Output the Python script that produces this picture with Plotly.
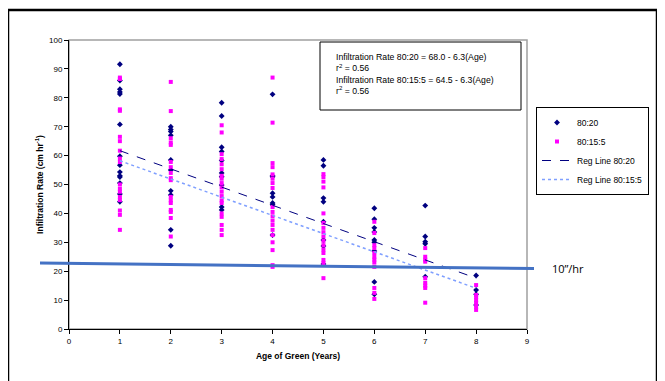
import plotly.graph_objects as go

# ---- data ----
ages_8020 = ([1]*14 + [2]*10 + [3]*10 + [4]*8 + [5]*8 + [6]*9 + [7]*5 + [8]*4)
rates_8020 = [91.6, 86, 83, 82, 81.3, 70.8, 59.8, 56.7, 54.3, 53, 52.6, 50.5, 46.7, 44,
              70, 69, 68.3, 67, 58.5, 55, 47.8, 46.4, 34.3, 28.8,
              78.3, 73.7, 62.9, 61.4, 58.3, 54, 52.7, 49.8, 42.2, 41.2,
              81.2, 53, 52.7, 47, 45.7, 43.6, 43, 32.5,
              58.5, 56.5, 45.3, 44, 37.1, 30.8, 28.7, 22.5,
              41.8, 38, 35, 33.6, 30.8, 30, 27, 16.3, 12,
              42.7, 32, 30.2, 29.5, 18.1,
              18.5, 13.5, 12, 8.3]

ages_80155 = ([1]*17 + [2]*17 + [3]*19 + [4]*19 + [5]*16 + [6]*12 + [7]*9 + [8]*7)
rates_80155 = [87, 86.5, 76, 75.5, 66.5, 65, 61.7, 59, 57.8, 50, 48.5, 47.5, 45.7, 44.6, 41, 39.5, 34.3,
               85.5, 75.4, 66, 64.5, 63.7, 57.8, 56, 54, 52.2, 51.5, 45.7, 44.5, 43.6, 41.2, 40.5, 38.4, 32,
               70.5, 68, 60.5, 58.8, 57, 55.3, 53, 52, 50.5, 49, 47.5, 46, 44.5, 43.6, 40, 38.8, 36, 34.3, 32.5,
               87, 71.4, 57.4, 56, 53.5, 52, 50.5, 48.8, 42.2, 40.5, 39, 37.5, 36, 34.3, 32.5, 30, 27.3, 22.1, 21.5,
               53.6, 52.6, 51, 49, 40, 36.7, 35, 33.5, 32, 30.5, 29, 27.5, 26.3, 23.9, 22.8, 17.6,
               37.1, 33.2, 29, 28, 26.3, 25, 24, 23, 21.5, 14.2, 12.5, 10.4,
               28, 25, 24, 23.3, 17.6, 16, 15, 14.2, 9.1,
               15.2, 11.8, 11, 10, 9, 7.7, 6.6]

reg_ages = [1, 8]
reg_8020_intercept, reg_8020_slope = 68.0, -6.3
reg_80155_intercept, reg_80155_slope = 64.5, -6.3

x_ticks = [0, 1, 2, 3, 4, 5, 6, 7, 8, 9]
y_ticks = [0, 10, 20, 30, 40, 50, 60, 70, 80, 90, 100]

FONT = "Liberation Sans, Arial, sans-serif"

fig = go.Figure()
fig.add_trace(go.Scatter(x=ages_8020, y=rates_8020, mode="markers", name="80:20",
                         legendgroup="a",
                         marker=dict(symbol="diamond", size=4.5, color="#000080")))
fig.add_trace(go.Scatter(x=ages_80155, y=rates_80155, mode="markers", name="80:15:5",
                         legendgroup="b",
                         marker=dict(symbol="square", size=4, color="#FF00FF")))
fig.add_trace(go.Scatter(x=reg_ages,
                         y=[reg_8020_intercept + reg_8020_slope * a for a in reg_ages],
                         mode="lines", name="Reg Line 80:20", legendgroup="c",
                         line=dict(color="#000080", width=1, dash="dash")))
fig.add_trace(go.Scatter(x=reg_ages,
                         y=[reg_80155_intercept + reg_80155_slope * a for a in reg_ages],
                         mode="lines", name="Reg Line 80:15:5", legendgroup="d",
                         line=dict(color="#7F9FFF", width=1.5, dash="dot")))

# page body has an 8px margin, so the figure is laid out 8px up/left
OFF = 8
L, R, T, B = 69, 527, 40, 329      # plot area in window pixels
W, H = 665 - OFF, 381 - OFF

def px(xp):
    return (xp - L) / (R - L)

def py(yp):
    return (B - yp) / (B - T)

shapes = [
    # outer chart frame
    dict(type="rect", xref="paper", yref="paper", x0=px(8), x1=px(657), y0=py(400), y1=py(10),
         line=dict(color="black", width=2.5), layer="below"),
    # plot area border (grey)
    dict(type="rect", xref="paper", yref="paper", x0=0, x1=1, y0=0, y1=1,
         line=dict(color="#A0A0A0", width=1.5), layer="below"),
    # equation box
    dict(type="rect", xref="paper", yref="paper", x0=px(320), x1=px(521), y0=py(110), y1=py(42),
         line=dict(color="black", width=1), fillcolor="white", layer="above"),
    # 10"/hr reference line
    dict(type="line", xref="paper", yref="paper", x0=px(40), y0=py(263), x1=px(534), y1=py(268.5),
         line=dict(color="#4472C4", width=3)),
]

annotations = [
    dict(xref="paper", yref="paper", x=px(335), y=py(51), xanchor="left", yanchor="top",
         text=("Infiltration Rate 80:20 = 68.0 - 6.3(Age)<br>r<sup>2</sup> = 0.56<br>"
               "Infiltration Rate 80:15:5 = 64.5 - 6.3(Age)<br>r<sup>2</sup> = 0.56"),
         showarrow=False, align="left", borderpad=0,
         font=dict(family=FONT, size=8.7, color="black")),
    dict(xref="paper", yref="paper", x=px(550), y=py(268), xanchor="left", yanchor="middle",
         text="10’’/hr", showarrow=False,
         font=dict(family="Open Sans, sans-serif", size=11, color="black")),
]

fig.update_layout(
    width=W, height=H,
    margin=dict(l=L - OFF, r=W - (R - OFF), t=T - OFF, b=H - (B - OFF), pad=0),
    paper_bgcolor="white", plot_bgcolor="white",
    font=dict(family=FONT, size=8, color="black"),
    shapes=shapes, annotations=annotations,
    showlegend=True,
    legend=dict(x=px(536), y=py(107), xanchor="left", yanchor="top",
                bordercolor="black", borderwidth=1, bgcolor="white",
                font=dict(family=FONT, size=8.5, color="black"),
                traceorder="grouped", tracegroupgap=0, itemwidth=30),
    xaxis=dict(range=[0, 9], tickvals=x_ticks, ticks="outside", ticklen=4, tickcolor="black",
               showline=True, linecolor="black", linewidth=1, showgrid=False, zeroline=False,
               tickfont=dict(size=8), fixedrange=True,
               title=dict(text="<b>Age of Green (Years)</b>", font=dict(size=8.5), standoff=8)),
    yaxis=dict(range=[0, 100], tickvals=y_ticks, ticks="outside", ticklen=4, tickcolor="black",
               showline=True, linecolor="black", linewidth=1, showgrid=False, zeroline=False,
               tickfont=dict(size=8), fixedrange=True,
               title=dict(text="<b>Infiltration Rate (cm hr<sup>-1</sup>)</b>", font=dict(size=8.5),
                          standoff=4)),
)

fig.write_html("out.html")
